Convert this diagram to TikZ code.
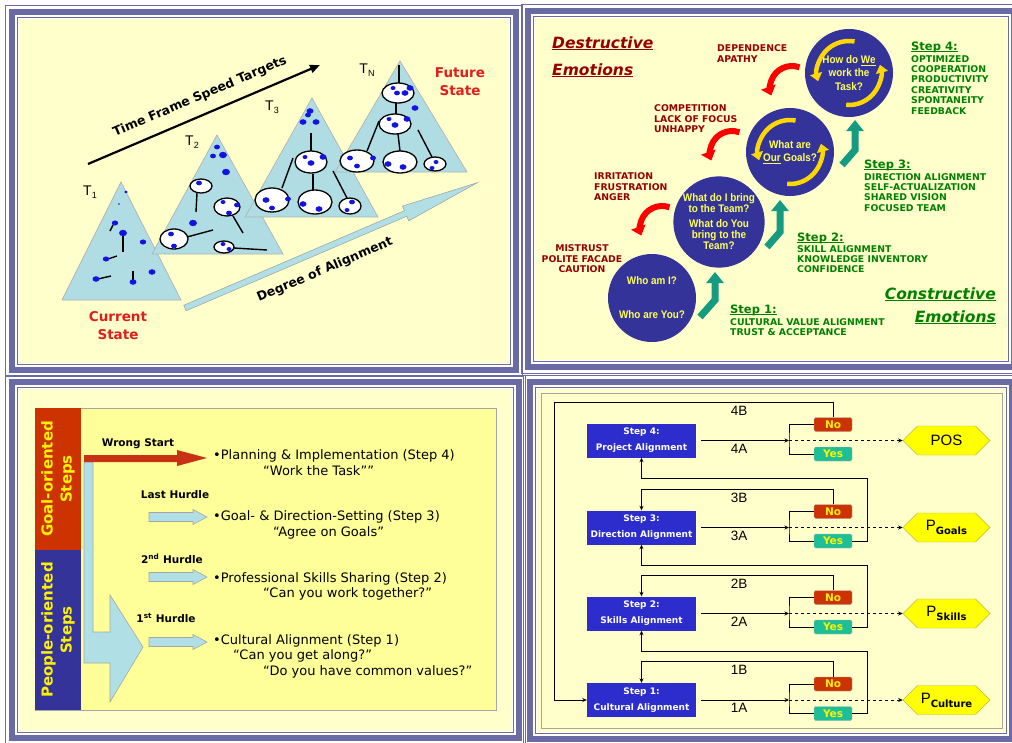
\documentclass[tikz,border=0pt]{standalone}
\usepackage{fontspec}
\setmainfont{DejaVu Sans}
\newfontfamily\arialfont{Liberation Sans}
\newfontfamily\narrowfont[FakeStretch=0.9]{Liberation Sans}
\usepackage{tikz}
\usetikzlibrary{arrows.meta,shapes,calc,positioning}
\definecolor{framecol}{RGB}{106,106,164}
\definecolor{paper}{RGB}{255,255,204}
\definecolor{paperdark}{RGB}{255,255,153}
\definecolor{tribg}{RGB}{176,221,228}
\definecolor{dotblue}{RGB}{20,20,225}
\definecolor{statered}{RGB}{225,30,30}
\definecolor{navy}{RGB}{51,51,153}
\definecolor{darkred}{RGB}{150,0,0}
\definecolor{stepgreen}{RGB}{0,128,0}
\definecolor{tealarr}{RGB}{20,155,130}
\definecolor{arcyellow}{RGB}{255,215,0}
\definecolor{qyellow}{RGB}{255,255,90}
\definecolor{goalred}{RGB}{204,51,0}
\definecolor{wrongred}{RGB}{200,50,20}
\definecolor{powder}{RGB}{176,224,230}
\definecolor{stepblue}{RGB}{45,45,205}
\definecolor{yesteal}{RGB}{30,190,150}
\definecolor{hexyellow}{RGB}{255,255,0}
\newcommand{\lowidx}[1]{\raisebox{-0.35ex}{\fontsize{9}{9}\selectfont #1}}
\newcommand{\hexsub}[1]{\raisebox{-0.5ex}{\fontspec{DejaVu Sans}\bfseries\fontsize{10}{10}\selectfont #1}}
% underline that stays close to the baseline
\newcommand{\ulx}[2][0.9pt]{\setbox0\hbox{#2}\rlap{\rule[-2pt]{\wd0}{#1}}\box0{}}
\tikzstyle{tri}=[fill=tribg,draw=gray!60,line width=0.7pt]
\tikzstyle{cellring}=[fill=white,draw=black,line width=1.3pt]
\tikzstyle{stem}=[draw=black,line width=1.4pt]
\tikzstyle{lbl}=[font=\arialfont\fontsize{14}{14}\selectfont,inner sep=0pt]
\tikzstyle{statelbl}=[text=statered,font=\bfseries\fontsize{13.5}{18}\selectfont,align=center,inner sep=0pt]
\tikzstyle{slope}=[font=\bfseries\fontsize{12.5}{13}\selectfont,inner sep=0pt]
\tikzstyle{qcircle}=[circle,fill=navy,minimum size=88pt,inner sep=0pt,text=qyellow,font=\narrowfont\bfseries\fontsize{11}{11}\selectfont,align=center]
\tikzstyle{hookarrow}=[draw=red,line width=6pt,-{Triangle[width=15pt,length=9pt]}]
\tikzstyle{swirl}=[draw=arcyellow,line width=4.5pt,-{Triangle[width=12pt,length=8pt]}]
\tikzstyle{rise}=[draw=tealarr,line width=7pt,line join=miter,-{Triangle[width=17pt,length=11pt]}]
\tikzstyle{emo}=[text=darkred,font=\bfseries\fontsize{9.3}{10.4}\selectfont,inner sep=0pt]
\tikzstyle{gain}=[text=stepgreen,font=\bfseries\fontsize{9.3}{10.4}\selectfont,inner sep=0pt,align=left]
\tikzstyle{gainhead}=[text=stepgreen,font=\bfseries\fontsize{11.5}{12}\selectfont,inner sep=0pt]
\tikzstyle{bigtitle}=[font=\bfseries\itshape\fontsize{15.5}{16}\selectfont,inner sep=0pt]
\tikzstyle{sidetxt}=[text=yellow,font=\bfseries\fontsize{15}{19}\selectfont,align=center,rotate=90,inner sep=0pt]
\tikzstyle{hurdle}=[font=\bfseries\fontsize{10.5}{11}\selectfont,inner sep=0pt]
\tikzstyle{itemtxt}=[font=\fontsize{13}{13}\selectfont,inner sep=0pt,anchor=west]
\tikzstyle{thinarrow}=[fill=powder,draw=gray!70,line width=0.6pt]
\tikzstyle{stepbox}=[rectangle,fill=stepblue,text=white,font=\bfseries\fontsize{9}{16}\selectfont,minimum width=109pt,minimum height=34pt,inner sep=0pt,align=center]
\tikzstyle{answer}=[rectangle,rounded corners=1.5pt,minimum width=38pt,minimum height=14pt,inner sep=0pt,text=yellow,font=\bfseries\fontsize{10.5}{10.5}\selectfont,draw=gray!60]
\tikzstyle{hexa}=[signal,signal to=east and west,signal pointer angle=90,fill=hexyellow,draw=olive!60,minimum width=87pt,minimum height=29pt,inner sep=0pt,font=\arialfont\fontsize{15}{15}\selectfont]
\tikzstyle{flow}=[draw=black,line width=1pt]
\tikzstyle{fwd}=[-{Stealth[length=4.5pt,width=4pt]}]

\begin{document}
\begin{tikzpicture}[x=1pt,y=-1pt]
\useasboundingbox (0,0) rectangle (1012,742);
\fill[white] (0,0) rectangle (1012,742);

% the four framed panels
\foreach \xa/\ya/\xb/\yb in {19/19/509/363, 535/18/1007/360, 19/389/512/731, 537/389/1005/732} {
  \fill[paper] (\xa,\ya) rectangle (\xb,\yb);
  \draw[framecol,line width=1.2pt] (\xa-1.5,\ya-1.5) rectangle (\xb+1.5,\yb+1.5);
  \draw[framecol,line width=6pt] (\xa-7,\ya-7) rectangle (\xb+7,\yb+7);
  \draw[framecol,line width=1.2pt] (\xa-13.5,\ya-13.5) rectangle (\xb+13.5,\yb+13.5);
}

%%%%% panel 1: from current to future state
\draw[line width=2.2pt,-{Triangle[length=10pt,width=8pt]}] (88,164) -- (320,65);
\node[slope,rotate=23.1] (speed) at (200,97) {Time Frame Speed Targets};

% T1
\draw[tri] (121,182) -- (62,300) -- (181,300) -- cycle;
\foreach \a/\b/\c/\d in {110/231/113/225, 123/236/123/252, 108/259/117/256, 98/279/111/276, 133/280/133/271}
  \draw[stem] (\a,\b) -- (\c,\d);
\foreach \x/\y/\r in {126/192/1.8, 119/204/1, 115/223/3.2, 123/233/4, 143/242/3.2, 106/259/3.2, 152/272/3.5, 96/279/3.5, 133/282/3.5}
  \fill[dotblue] (\x,\y) ellipse ({\r} and {0.8*\r});

% T2
\draw[tri] (217,135) -- (152,254) -- (283,254) -- cycle;
\foreach \a/\b/\c/\d in {197/193/196/212, 233/216/243/233, 187/237/213/230, 234/248/267/250}
  \draw[stem] (\a,\b) -- (\c,\d);
\foreach \x/\y/\rx/\ry in {201/186/11/7, 227/207/13/9, 174/239/14/10, 224/247/10/6}
  \draw[cellring] (\x,\y) ellipse ({\rx} and {\ry});
\foreach \x/\y/\r in {217/147/3, 213/156/3, 223/155/4, 226/172/4, 193/223/4, 199/183/3, 223/202/2.5, 237/205/3, 229/213/3, 171/234/3, 174/246/3, 223/244/2.5, 229/249/2.5}
  \fill[dotblue] (\x,\y) ellipse ({\r} and {0.8*\r});

% T3
\draw[tri] (312,98) -- (245,217) -- (378,217) -- cycle;
\foreach \a/\b/\c/\d in {311/133/311/151, 293/158/282/188, 313/174/313/190, 333/171/347/198}
  \draw[stem] (\a,\b) -- (\c,\d);
\foreach \x/\y/\rx/\ry in {311/162/16/11, 272/200/17/12, 315/202/17/12, 350/206/11/8}
  \draw[cellring] (\x,\y) ellipse ({\rx} and {\ry});
\foreach \x/\y/\r in {310/111/3.5, 308/115/3, 303/122/3.5, 316/122/3.5, 305/157/2.5, 323/157/3.5, 311/163/3.5, 266/200/3.5, 288/199/3, 272/208/3, 303/204/3.5, 319/209/3.5, 352/202/3, 347/210/2.5}
  \fill[dotblue] (\x,\y) ellipse ({\r} and {0.8*\r});

% TN
\draw[tri] (400,61) -- (335,172) -- (467,172) -- cycle;
\foreach \a/\b/\c/\d in {399/65/399/83, 396/103/396/114, 379/121/367/151, 398/134/400/151, 418/130/432/157}
  \draw[stem] (\a,\b) -- (\c,\d);
\foreach \x/\y/\rx/\ry in {398/93/16/10, 395/124/16/10, 357/161/17/11, 400/162/17/11, 435/164/11/7}
  \draw[cellring] (\x,\y) ellipse ({\rx} and {\ry});
\foreach \x/\y/\r in {393/88/2.5, 410/88/3.5, 397/93/3, 405/93/3.5, 415/108/3.5, 389/119/2.5, 407/119/3.5, 395/125/3.5, 350/158/3, 373/158/3, 357/166/3, 388/164/3.5, 403/167/3.5, 436/162/2.5, 432/168/2.5}
  \fill[dotblue] (\x,\y) ellipse ({\r} and {0.8*\r});

\foreach \pos/\name/\idx in {{(90,192)/t1/1},{(192,142)/t2/2},{(272,107)/t3/3},{(367,70)/tn/N}}
  \node[lbl] (\name) at \pos {T\lowidx{\idx}};

% degree of alignment arrow
\begin{scope}[shift={(185,308)},rotate=23.2]
  \draw[thinarrow] (0,-3) -- (240,-3) -- (240,-8) -- (318,0) -- (240,8) -- (240,3) -- (0,3) -- cycle;
\end{scope}
\node[slope,rotate=23.2] (degree) at (325,270) {Degree of Alignment};

\node[statelbl] (current) at (118,326) {Current\\State};
\node[statelbl] (future) at (460,82) {Future\\State};

%%%%% panel 2: destructive and constructive emotions
\node[bigtitle,text=darkred,anchor=base west] (destr) at (552,48) {\ulx[1.2pt]{Destructive}};
\node[bigtitle,text=darkred,anchor=base west] (emoa) at (552,75) {\ulx[1.2pt]{Emotions}};
\node[bigtitle,text=stepgreen,anchor=base east] (constr) at (996,299) {\ulx[1.2pt]{Constructive}};
\node[bigtitle,text=stepgreen,anchor=base east] (emob) at (996,322) {\ulx[1.2pt]{Emotions}};

\node[qcircle] (c1) at (652,298) {Who am I?\\[23pt]Who are You?};
\node[qcircle] (c2) at (719,222) {What do I bring\\to the Team?\\[4pt]What do You\\bring to the\\Team?};
\node[qcircle] (c3) at (790,152) {What are\\[2pt]\ulx[0.6pt]{Our} Goals?};
\node[qcircle] (c4) at (849,73) {How do \ulx[0.6pt]{We}\\[2.5pt]work the\\[2.5pt]Task?};

% yellow turning arrows
\foreach \c in {c3,c4} {
  \draw[swirl] ($(\c)+(80:32pt)$) arc[start angle=80,end angle=195,radius=32pt];
  \draw[swirl] ($(\c)+(-95:32pt)$) arc[start angle=-95,end angle=15,radius=32pt];
}

% red hooks on the way down
\foreach \cx/\cy in {662/228, 732/153, 792/88}
  \draw[hookarrow] ($(\cx,\cy)+(70:22pt)$) arc[start angle=70,end angle=200,radius=22pt];

% teal steps on the way up
\foreach \xa/\ya/\xb/\yb/\yc in {700/317/715/300/272, 767/247/780/232/200, 842/165/855/150/120}
  \draw[rise] (\xa,\ya) -- (\xb,\yb) -- (\xb,\yc);

\node[emo,anchor=north west,align=left] (dep) at (717,44.5) {DEPENDENCE\\APATHY};
\node[emo,anchor=north west,align=left] (comp) at (654,104.5) {COMPETITION\\LACK OF FOCUS\\UNHAPPY};
\node[emo,anchor=north west,align=left] (irr) at (594,172.5) {IRRITATION\\FRUSTRATION\\ANGER};
\node[emo,anchor=north,align=center] (mist) at (582,244.5) {MISTRUST\\POLITE FACADE\\CAUTION};

\foreach \x/\y/\k in {911/50/4, 864/168/3, 797/241/2, 730/313/1}
  \node[gainhead,anchor=base west] (h\k) at (\x,\y) {\ulx{Step \k:}};
\node[gain,anchor=north west] (g4) at (911,55) {OPTIMIZED\\COOPERATION\\PRODUCTIVITY\\CREATIVITY\\SPONTANEITY\\FEEDBACK};
\node[gain,anchor=north west] (g3) at (864,173) {DIRECTION ALIGNMENT\\SELF-ACTUALIZATION\\SHARED VISION\\FOCUSED TEAM};
\node[gain,anchor=north west] (g2) at (797,245) {SKILL ALIGNMENT\\KNOWLEDGE INVENTORY\\CONFIDENCE};
\node[gain,anchor=north west] (g1) at (730,318) {CULTURAL VALUE ALIGNMENT\\TRUST \& ACCEPTANCE};

%%%%% panel 3: hurdles
\draw[fill=paperdark,draw=gray!70,line width=0.8pt] (35,408) rectangle (496,710);
\fill[goalred] (35,408) rectangle (81,550);
\fill[navy] (35,550) rectangle (81,710);
\node[sidetxt] (goal) at (58,479) {Goal-oriented\\Steps};
\node[sidetxt] (people) at (58,630) {People-oriented\\Steps};

\draw[thinarrow] (84,462) -- (93,462) -- (93,632) -- (110,632) -- (110,595) -- (143,647) -- (110,702) -- (110,663) -- (84,663) -- cycle;
\fill[wrongred] (84,455) -- (177,455) -- (177,450) -- (207,458) -- (177,466) -- (177,462) -- (84,462) -- cycle;
\foreach \y in {517,577,642}
  \draw[thinarrow] (149,\y-4.5) -- (193,\y-4.5) -- (193,\y-7.5) -- (207,\y) -- (193,\y+7.5) -- (193,\y+4.5) -- (149,\y+4.5) -- cycle;

\node[hurdle] (wrong) at (138,444) {Wrong Start};
\node[hurdle] (last) at (175,495) {Last Hurdle};
\node[hurdle] (second) at (172,559) {2\textsuperscript{nd} Hurdle};
\node[hurdle] (first) at (166,618) {1\textsuperscript{st} Hurdle};

\node[itemtxt] (st4) at (213,456) {•Planning \& Implementation (Step 4)};
\node[itemtxt] (q4) at (263,471) {“Work the Task””};
\node[itemtxt] (st3) at (213,517) {•Goal- \& Direction-Setting (Step 3)};
\node[itemtxt] (q3) at (273,533) {“Agree on Goals”};
\node[itemtxt] (st2) at (213,579) {•Professional Skills Sharing (Step 2)};
\node[itemtxt] (q2) at (263,594) {“Can you work together?”};
\node[itemtxt] (st1) at (213,641) {•Cultural Alignment (Step 1)};
\node[itemtxt] (q1a) at (233,656) {“Can you get along?”};
\node[itemtxt] (q1b) at (263,672) {“Do you have common values?”};

%%%%% panel 4: alignment loop
\draw[gray!70,line width=0.8pt] (541,393) rectangle (1002,728);

\foreach \i/\y/\title/\goal in {4/440.5/Project Alignment/{POS}, 3/527.5/Direction Alignment/{P\hexsub{Goals}}, 2/613.5/Skills Alignment/{P\hexsub{Skills}}, 1/700/Cultural Alignment/{P\hexsub{Culture}}} {
  \node[stepbox] (s\i) at (641.5,\y) {Step \i:\\\title};
  \node[answer,fill=goalred] (no\i) at (833,\y-16) {No};
  \node[answer,fill=yesteal] (yes\i) at (833,\y+13.5) {Yes};
  \node[hexa] (hx\i) at (946.5,\y) {\goal};
  \coordinate (j\i) at (789,\y);
  \node[lbl,font=\arialfont\fontsize{13.5}{13.5}\selectfont] (b\i) at (739,\y-30) {\i B};
  \node[lbl,font=\arialfont\fontsize{13.5}{13.5}\selectfont] (a\i) at (739,\y+8) {\i A};
  % step to decision
  \draw[flow,fwd] ([xshift=5pt]s\i.east) -- (j\i);
  \draw[flow] (no\i.west) -| (j\i) |- (yes\i.west);
  \draw[flow,dashed,fwd] (j\i) -- (hx\i.west);
}

% no: back to the start of the step
\draw[flow,fwd] (no4.north) -- ++(0,-15) -| ($(s1.west)+(-32,0)$) -- (s1.west);
\foreach \i in {1,2,3}
  \draw[flow,fwd] (no\i.north) -- ++(0,-15) -| (s\i.north);
% yes: on to the next step
\foreach \i/\j in {1/2,2/3,3/4}
  \draw[flow,fwd] (yes\i.east) -- ++(15,0) |- ($(s\j.south)+(0,21)$) -- (s\j.south);

\end{tikzpicture}
\end{document}
